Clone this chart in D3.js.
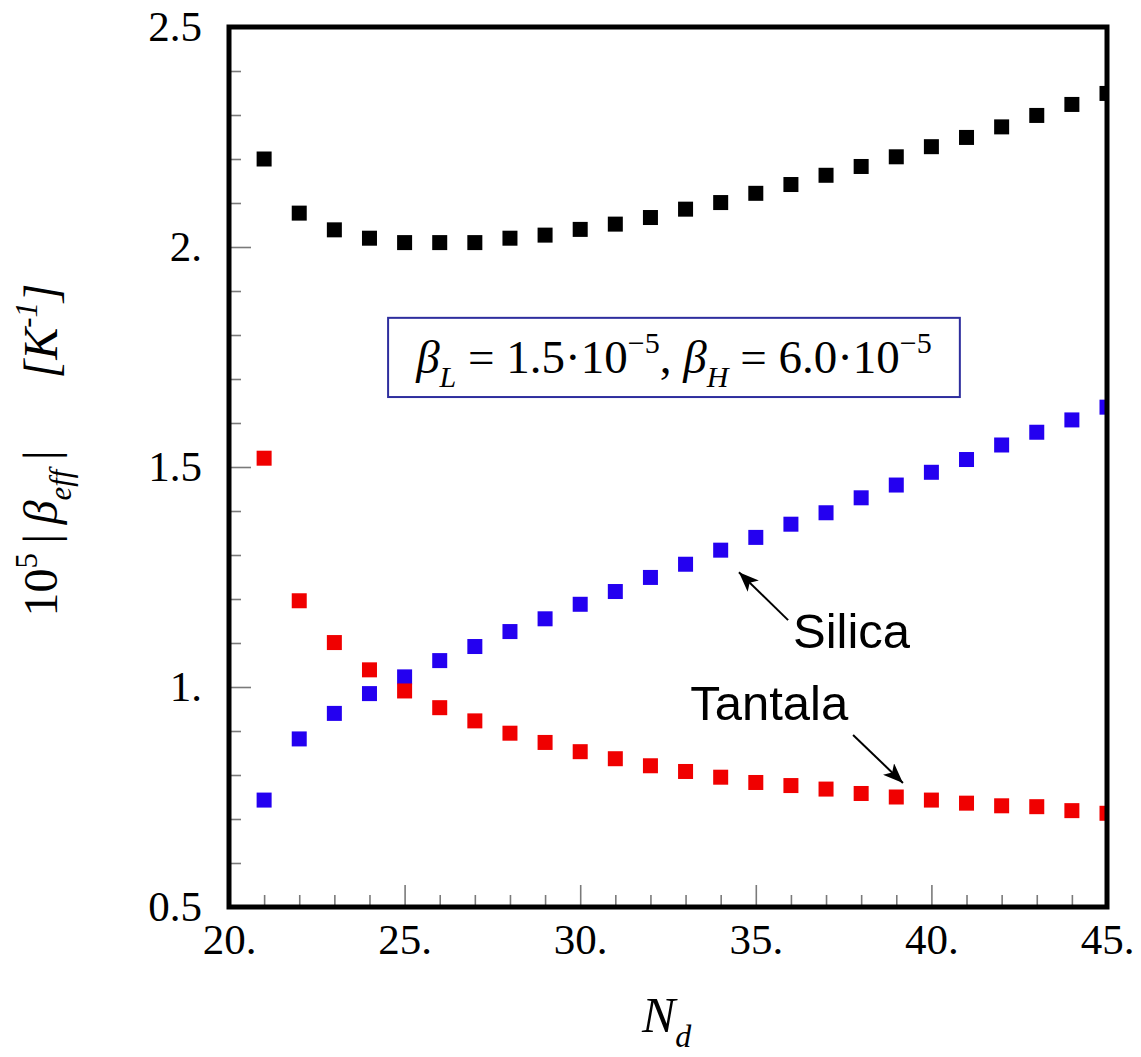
<!DOCTYPE html>
<html>
<head>
<meta charset="utf-8">
<script src="https://cdn.jsdelivr.net/npm/d3@7"></script>
<style>
  body { margin: 0; background: #fff; }
  svg { display: block; }
</style>
</head>
<body>
<svg id="chart"></svg>
<script>
// Data
const nd = [21, 22, 23, 24, 25, 26, 27, 28, 29, 30, 31, 32, 33, 34, 35, 36, 37, 38, 39, 40, 41, 42, 43, 44, 45];
const totalBeta = [2.200, 2.077, 2.039, 2.020, 2.010, 2.010, 2.010, 2.020, 2.027, 2.040, 2.052, 2.067, 2.086,
  2.101, 2.122, 2.142, 2.163, 2.183, 2.205, 2.228, 2.249, 2.273, 2.299, 2.324, 2.349];
const silicaBeta = [0.743, 0.882, 0.940, 0.985, 1.023, 1.060, 1.092, 1.126, 1.155, 1.188, 1.217, 1.249, 1.279,
  1.311, 1.340, 1.370, 1.396, 1.430, 1.459, 1.488, 1.517, 1.550, 1.579, 1.607, 1.636];
const tantalaBeta = [1.520, 1.196, 1.101, 1.039, 0.991, 0.953, 0.923, 0.895, 0.874, 0.853, 0.837, 0.821, 0.808,
  0.795, 0.783, 0.776, 0.768, 0.758, 0.750, 0.743, 0.736, 0.730, 0.728, 0.719, 0.713];

const xMajor = [20, 25, 30, 35, 40, 45];
const xMinor = [21, 22, 23, 24, 26, 27, 28, 29, 31, 32, 33, 34, 36, 37, 38, 39, 41, 42, 43, 44];
const yMajor = [0.5, 1.0, 1.5, 2.0, 2.5];
const yMinor = [0.6, 0.7, 0.8, 0.9, 1.1, 1.2, 1.3, 1.4, 1.6, 1.7, 1.8, 1.9, 2.1, 2.2, 2.3, 2.4];

const series = [
  { name: "total", values: totalBeta, color: "#000000" },
  { name: "silica", values: silicaBeta, color: "#2400f0" },
  { name: "tantala", values: tantalaBeta, color: "#f00000" },
];

const W = 1141, H = 1057;
const margin = { top: 27, right: 34, bottom: 150, left: 229 };
const width = W - margin.left - margin.right,
  height = H - margin.top - margin.bottom;

const serif = "'Liberation Serif', 'Times New Roman', serif";
const sans = "'Liberation Sans', Arial, sans-serif";

const svg = d3.select("#chart").attr("width", W).attr("height", H);
const g = svg.append("g").attr("transform", "translate(" + margin.left + "," + margin.top + ")");

const xScale = d3.scaleLinear().domain([20, 45]).range([0, width]);
const yScale = d3.scaleLinear().domain([0.5, 2.5]).range([height, 0]);

// helper for sub/superscripts inside a text element
function richText(sel, parts, size) {
  let shift = 0;
  parts.forEach((p) => {
    const target = p.sub ? size * 0.3 : p.sup ? -size * 0.42 : 0;
    sel.append("tspan")
      .attr("dy", target - shift)
      .attr("font-size", p.sub || p.sup ? size * 0.64 : size)
      .attr("font-style", p.i ? "italic" : "normal")
      .text(p.t);
    shift = target;
  });
}

// ticks (inward)
const tickStyle = (sel) => {
  sel.select(".domain").remove();
  sel.selectAll("line").attr("stroke", "#7a7a7a").attr("stroke-width", 1.6);
};

g.append("g")
  .attr("transform", "translate(0," + height + ")")
  .call(d3.axisBottom(xScale).tickValues(xMinor).tickSize(-12).tickFormat(""))
  .call(tickStyle);

g.append("g")
  .attr("class", "x axis")
  .attr("transform", "translate(0," + height + ")")
  .call(d3.axisBottom(xScale).tickValues(xMajor).tickSizeInner(-22).tickSizeOuter(0).tickPadding(16)
    .tickFormat((d) => d + "."))
  .call(tickStyle)
  .call((s) => s.selectAll("text").attr("font-family", serif).attr("font-size", 43).attr("fill", "#000"));

g.append("g")
  .call(d3.axisLeft(yScale).tickValues(yMinor).tickSize(-12).tickFormat(""))
  .call(tickStyle);

g.append("g")
  .attr("class", "y axis")
  .call(d3.axisLeft(yScale).tickValues(yMajor).tickSizeInner(-22).tickSizeOuter(0).tickPadding(27)
    .tickFormat((d) => (Number.isInteger(d) ? d + "." : d)))
  .call(tickStyle)
  .call((s) => s.selectAll("text").attr("font-family", serif).attr("font-size", 43).attr("fill", "#000"));

// markers
g.append("clipPath").attr("id", "plotClip")
  .append("rect").attr("width", width).attr("height", height);

const size = 15;
const pts = g.append("g").attr("clip-path", "url(#plotClip)");
series.forEach((s) => {
  pts.append("g")
    .attr("class", s.name)
    .selectAll("rect")
    .data(nd.map((n, i) => ({ n: n, v: s.values[i] })))
    .join("rect")
    .attr("x", (d) => xScale(d.n) - size / 2)
    .attr("y", (d) => yScale(d.v) - size / 2)
    .attr("width", size)
    .attr("height", size)
    .attr("fill", s.color);
});

// frame
g.append("rect")
  .attr("width", width).attr("height", height)
  .attr("fill", "none").attr("stroke", "#000").attr("stroke-width", 5);

// parameter box
const boxL = xScale(24.53), boxR = xScale(40.81), boxT = yScale(1.839), boxB = yScale(1.659);
g.append("rect")
  .attr("x", boxL).attr("y", boxT)
  .attr("width", boxR - boxL).attr("height", boxB - boxT)
  .attr("fill", "#fff").attr("stroke", "#2e2e9e").attr("stroke-width", 2);

const boxText = g.append("text")
  .attr("x", (boxL + boxR) / 2).attr("y", boxB - 24)
  .attr("text-anchor", "middle")
  .attr("font-family", serif).attr("font-size", 47);
richText(boxText, [
  { t: "\u03b2", i: true }, { t: "L", i: true, sub: true },
  { t: " = 1.5\u00b710" }, { t: "\u22125", sup: true },
  { t: ", " },
  { t: "\u03b2", i: true }, { t: "H", i: true, sub: true },
  { t: " = 6.0\u00b710" }, { t: "\u22125", sup: true },
], 47);

// annotations
const defs = svg.append("defs");
defs.append("marker")
  .attr("id", "arrow")
  .attr("markerUnits", "userSpaceOnUse")
  .attr("markerWidth", 22).attr("markerHeight", 16)
  .attr("refX", 20).attr("refY", 8)
  .attr("orient", "auto")
  .append("path").attr("d", "M0,0 L20,8 L0,16 L5,8 Z").attr("fill", "#000");

const notes = [
  { label: "Silica", tx: 36.06, ty: 1.089, from: [35.92, 1.152], to: [34.52, 1.261] },
  { label: "Tantala", tx: 33.13, ty: 0.925, from: [37.77, 0.891], to: [39.19, 0.782] },
];
notes.forEach((a) => {
  g.append("line")
    .attr("x1", xScale(a.from[0])).attr("y1", yScale(a.from[1]))
    .attr("x2", xScale(a.to[0])).attr("y2", yScale(a.to[1]))
    .attr("stroke", "#000").attr("stroke-width", 2)
    .attr("marker-end", "url(#arrow)");
  g.append("text")
    .attr("x", xScale(a.tx)).attr("y", yScale(a.ty))
    .attr("font-family", sans).attr("font-size", 49)
    .text(a.label);
});

// axis titles
const xTitle = svg.append("text")
  .attr("x", 642).attr("y", 1032)
  .attr("font-family", serif).attr("font-size", 50);
richText(xTitle, [{ t: "N", i: true }, { t: "d", i: true, sub: true }], 50);

const yTitle = svg.append("text")
  .attr("transform", "translate(57,450) rotate(-90)")
  .attr("text-anchor", "middle")
  .attr("font-family", serif).attr("font-size", 48)
  .attr("xml:space", "preserve");
richText(yTitle, [
  { t: "10" }, { t: "5", sup: true }, { t: "\u2009|\u2009" },
  { t: "\u03b2", i: true }, { t: "eff", i: true, sub: true },
  { t: "\u2009|\u2002\u2002\u2002" }, { t: "[K", i: true }, { t: "-1", i: true, sup: true }, { t: "]", i: true },
], 48);
</script>
</body>
</html>
